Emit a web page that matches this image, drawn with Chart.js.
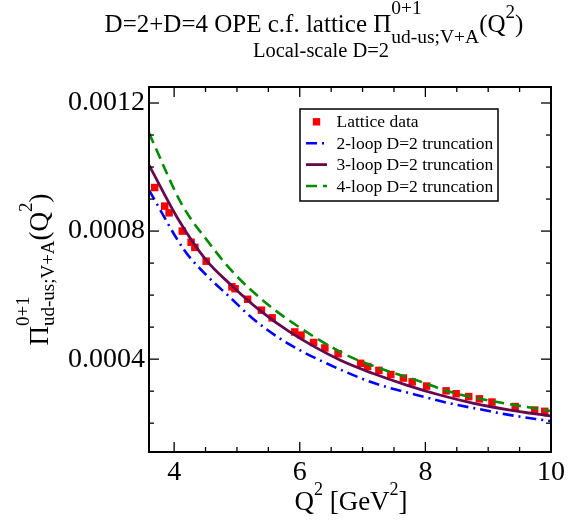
<!DOCTYPE html>
<html><head><meta charset="utf-8">
<script src="https://cdn.jsdelivr.net/npm/chart.js@4/dist/chart.umd.min.js"></script>
<style>html,body{margin:0;padding:0;background:#fff;}#wrap{width:581px;height:526px;}</style>
</head><body><div id="wrap"><canvas id="c" width="581" height="526"></canvas></div>
<script>
// ---- data ----
const latticeQ2 = [3.69,3.85,3.92,4.13,4.27,4.33,4.51,4.92,4.97,5.17,5.39,5.56,5.92,6.02,6.22,6.40,6.61,6.97,7.08,7.26,7.45,7.65,7.79,8.02,8.33,8.49,8.69,8.86,9.06,9.43,9.74,9.90];
const latticePi = [0.000936,0.000878,0.000857,0.000800,0.000765,0.000749,0.000706,0.000626,0.000620,0.000587,0.000553,0.000529,0.000485,0.000475,0.000452,0.000435,0.000417,0.000387,0.000377,0.000365,0.000352,0.000341,0.000329,0.000316,0.000301,0.000292,0.000283,0.000276,0.000266,0.000252,0.000241,0.000237];

const loop2Q2 = [3.6,4.16,4.51,4.88,5.25,5.68,6.0,6.64,7.17,7.86,8.39,8.93,9.24,10.0];
const loop2Pi = [0.000928,0.000741,0.000663,0.000595,0.000527,0.000465,0.000428,0.000368,0.000326,0.000288,0.000262,0.000241,0.000229,0.000206];

const loop3Q2 = [3.6,4.08,4.51,4.91,5.36,5.84,6.64,7.17,7.70,8.23,8.77,9.35,10.0];
const loop3Pi = [0.001006,0.000832,0.000709,0.000631,0.000553,0.000485,0.000397,0.000355,0.000319,0.000288,0.000262,0.000241,0.000222];

const loop4Q2 = [3.6,4.13,4.56,4.93,5.41,5.81,6.74,7.28,7.86,8.39,8.93,9.35,10.0];
const loop4Pi = [0.001106,0.000881,0.000762,0.000673,0.000584,0.000524,0.000413,0.000371,0.000334,0.000298,0.000274,0.000259,0.000238];

const seriesNames = ['Lattice data','2-loop D=2 truncation','3-loop D=2 truncation','4-loop D=2 truncation'];

const xTickValues = [4,6,8,10];
const xTickLabels = ['4','6','8','10'];
const xMinorValues = [4.5,5,5.5,6.5,7,7.5,8.5,9,9.5];
const yTickValues = [0.0004,0.0008,0.0012];
const yTickLabels = ['0.0004','0.0008','0.0012'];
const yMinorValues = [0.0002,0.0003,0.0005,0.0006,0.0007,0.0009,0.0010,0.0011];

// ---- styling ----
const SERIF = '"Liberation Serif", "Times New Roman", serif';
const C_RED = '#ff0000', C_BLUE = '#0000ff', C_MAROON = '#67074e', C_GREEN = '#008b00';
const DASH_BLUE = [11,5,2,5], DASH_GREEN = [11,6];

const pts = (xs, ys) => xs.map((x, i) => ({x, y: ys[i]}));

function drawRich(ctx, segs, x, y, align) {
  let total = 0;
  const meas = segs.map(s => {
    if (s.stack) {
      let w = 0;
      s.stack.forEach(p => { ctx.font = p.size + 'px ' + SERIF; p.w = ctx.measureText(p.t).width; w = Math.max(w, p.w); });
      total += w; return w;
    }
    ctx.font = s.size + 'px ' + SERIF; const w = ctx.measureText(s.t).width; total += w; return w;
  });
  let cx = align === 'center' ? x - total / 2 : x;
  ctx.textAlign = 'left'; ctx.textBaseline = 'alphabetic'; ctx.fillStyle = '#000';
  segs.forEach((s, i) => {
    if (s.stack) {
      s.stack.forEach(p => { ctx.font = p.size + 'px ' + SERIF; ctx.fillText(p.t, cx, y + (p.dy || 0)); });
    } else {
      ctx.font = s.size + 'px ' + SERIF; ctx.fillText(s.t, cx, y + (s.dy || 0));
    }
    cx += meas[i];
  });
}

const decorPlugin = {
  id: 'decor',
  afterDatasetsDraw(chart) {
    const ctx = chart.ctx, a = chart.chartArea, xs = chart.scales.x, ys = chart.scales.y;
    ctx.save();
    ctx.strokeStyle = '#000'; ctx.lineWidth = 2; ctx.setLineDash([]);
    ctx.strokeRect(a.left, a.top, a.right - a.left, a.bottom - a.top);
    ctx.lineWidth = 1.3;
    const tick = (x1, y1, x2, y2) => { ctx.beginPath(); ctx.moveTo(x1, y1); ctx.lineTo(x2, y2); ctx.stroke(); };
    xTickValues.forEach(v => { const p = xs.getPixelForValue(v); tick(p, a.bottom, p, a.bottom - 10); tick(p, a.top, p, a.top + 10); });
    xMinorValues.forEach(v => { const p = xs.getPixelForValue(v); tick(p, a.bottom, p, a.bottom - 5); tick(p, a.top, p, a.top + 5); });
    yTickValues.forEach(v => { const p = ys.getPixelForValue(v); tick(a.left, p, a.left + 10, p); tick(a.right, p, a.right - 10, p); });
    yMinorValues.forEach(v => { const p = ys.getPixelForValue(v); tick(a.left, p, a.left + 5, p); tick(a.right, p, a.right - 5, p); });

    // legend
    const lx = 300, ly = 109, lw = 198, lh = 92;
    ctx.fillStyle = '#fff'; ctx.fillRect(lx, ly, lw, lh);
    ctx.strokeStyle = '#000'; ctx.lineWidth = 1.5; ctx.strokeRect(lx, ly, lw, lh);
    const rows = [121.8, 143.2, 164.6, 186];
    const ds = chart.data.datasets;
    const order = [3, 0, 1, 2];
    rows.forEach((ry, r) => {
      const d = ds[order[r]];
      if (d.pointRadius > 0) {
        ctx.fillStyle = d.backgroundColor; ctx.fillRect(316.5 - 3.7, ry - 3.7, 7.4, 7.4);
      } else {
        ctx.strokeStyle = d.borderColor; ctx.lineWidth = d.borderWidth; ctx.setLineDash(d.borderDash || []);
        ctx.beginPath(); ctx.moveTo(306, ry); ctx.lineTo(327, ry); ctx.stroke(); ctx.setLineDash([]);
      }
      ctx.fillStyle = '#000'; ctx.font = '17.5px ' + SERIF; ctx.textAlign = 'left'; ctx.textBaseline = 'middle';
      ctx.fillText(seriesNames[r], 336.5, ry + 1);
    });

    // titles
    drawRich(ctx, [
      {t: 'D=2+D=4 OPE c.f. lattice \u03A0', size: 25},
      {stack: [{t: '0+1', size: 19.5, dy: -18}, {t: 'ud-us;V+A', size: 19.5, dy: 11}]},
      {t: '(Q', size: 25}, {t: '2', size: 19, dy: -14}, {t: ')', size: 25}
    ], 314, 32, 'center');
    drawRich(ctx, [{t: 'Local-scale D=2', size: 20.5}], 321, 57, 'center');
    drawRich(ctx, [{t: 'Q', size: 27}, {t: '2', size: 18, dy: -15}, {t: ' [GeV', size: 27}, {t: '2', size: 18, dy: -15}, {t: ']', size: 27}], 351, 510, 'center');
    ctx.save();
    ctx.translate(48, (a.top + a.bottom) / 2); ctx.rotate(-Math.PI / 2);
    drawRich(ctx, [
      {t: '\u03A0', size: 27},
      {stack: [{t: '0+1', size: 19, dy: -19}, {t: 'ud-us;V+A', size: 19, dy: 6}]},
      {t: '(Q', size: 27}, {t: '2', size: 19, dy: -16}, {t: ')', size: 27}
    ], 0, 0, 'center');
    ctx.restore();
    ctx.restore();
  }
};

new Chart(document.getElementById('c'), {
  type: 'scatter',
  data: {
    datasets: [
      {label: seriesNames[1], data: pts(loop2Q2, loop2Pi), showLine: true, borderColor: C_BLUE, backgroundColor: C_BLUE, borderWidth: 2.6, borderDash: DASH_BLUE, pointRadius: 0, cubicInterpolationMode: 'monotone'},
      {label: seriesNames[2], data: pts(loop3Q2, loop3Pi), showLine: true, borderColor: C_MAROON, backgroundColor: C_MAROON, borderWidth: 2.8, pointRadius: 0, cubicInterpolationMode: 'monotone'},
      {label: seriesNames[3], data: pts(loop4Q2, loop4Pi), showLine: true, borderColor: C_GREEN, backgroundColor: C_GREEN, borderWidth: 2.6, borderDash: DASH_GREEN, pointRadius: 0, cubicInterpolationMode: 'monotone'},
      {label: seriesNames[0], data: pts(latticeQ2, latticePi), showLine: false, backgroundColor: C_RED, borderColor: C_RED, borderWidth: 0, pointStyle: 'rect', pointRadius: 5.3, pointHoverRadius: 5.3}
    ]
  },
  options: {
    responsive: false, animation: false, devicePixelRatio: 1,
    layout: {padding: {top: 87, right: 30, left: 0, bottom: 0}},
    plugins: {legend: {display: false}, tooltip: {enabled: false}, title: {display: false}},
    scales: {
      x: {
        type: 'linear', min: 3.6, max: 10, position: 'bottom',
        grid: {display: false, drawTicks: false}, border: {display: false},
        afterBuildTicks: s => { s.ticks = xTickValues.map(v => ({value: v})); },
        afterFit: s => { s.height = 74; },
        ticks: {color: '#000', font: {family: SERIF, size: 28}, padding: 4, maxRotation: 0, autoSkip: false,
                callback: (v, i) => xTickLabels[i]}
      },
      y: {
        type: 'linear', min: 0.00011, max: 0.00125,
        grid: {display: false, drawTicks: false}, border: {display: false},
        afterBuildTicks: s => { s.ticks = yTickValues.map(v => ({value: v})); },
        afterFit: s => { s.width = 149; },
        ticks: {color: '#000', font: {family: SERIF, size: 28}, padding: 4, autoSkip: false,
                callback: (v, i) => yTickLabels[i]}
      }
    }
  },
  plugins: [decorPlugin]
});
</script></body></html>
